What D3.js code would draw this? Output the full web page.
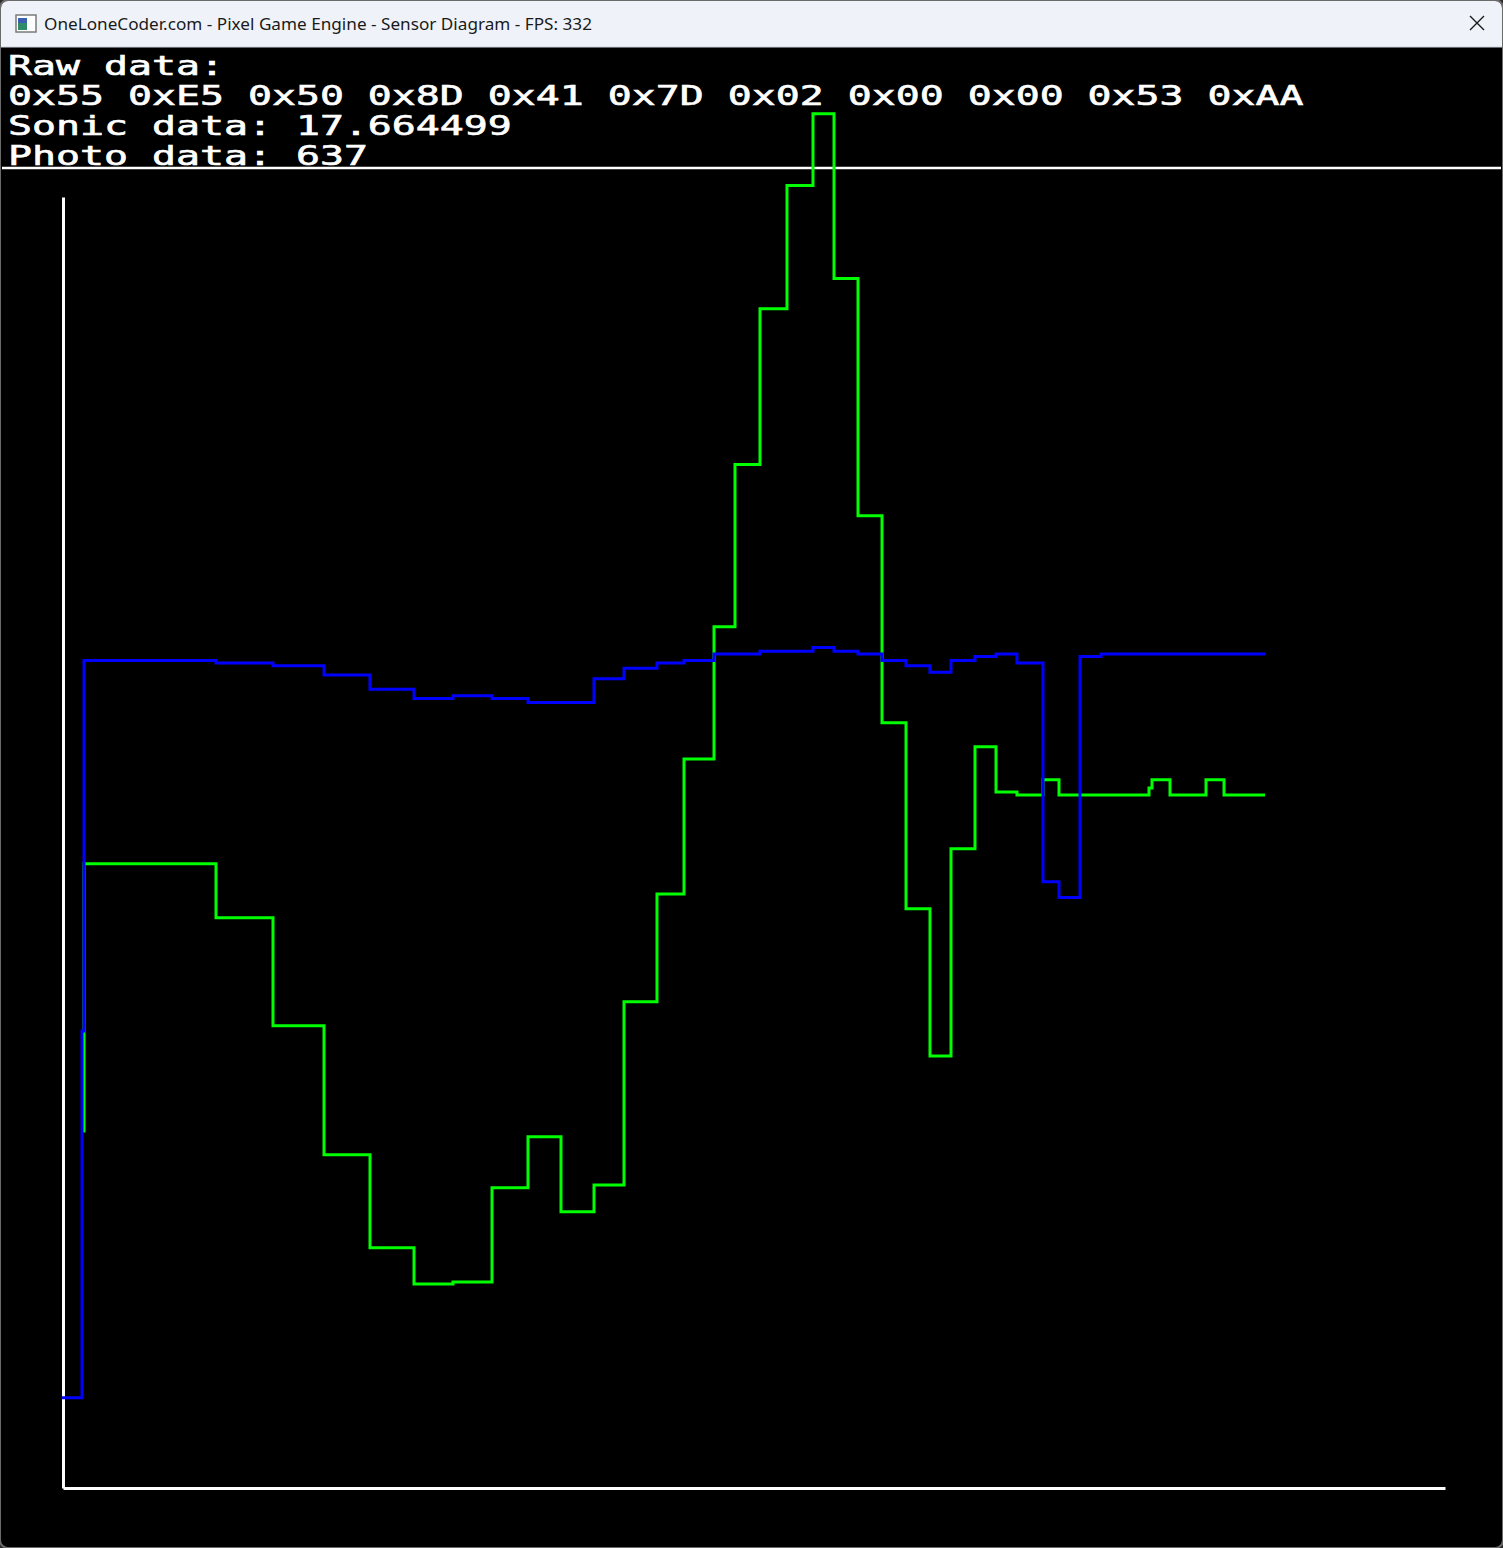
<!DOCTYPE html>
<html lang="en">
<head>
    <meta charset="UTF-8">
    <title>Sensor Diagram</title>
    <script src="https://d3js.org/d3.v7.min.js"></script>
    <style>
        body { margin: 0; background: #2b2b2b; }
        .line { fill: none; stroke-width: 3px; }
        .axis path { stroke: #fff; stroke-width: 3px; }
        .hud { font-family: "DejaVu Sans Mono", monospace; font-size: 26px; fill: #fff; stroke: #fff; stroke-width: 0.6px; }
    </style>
</head>
<body>
    <svg width="1503" height="1548"></svg>

    <script>
        // window title
        const windowTitle = "OneLoneCoder.com - Pixel Game Engine - Sensor Diagram - FPS: 332";

        // last packet + decoded readings
        const rawBytes = ["0x55", "0xE5", "0x50", "0x8D", "0x41", "0x7D", "0x02", "0x00", "0x00", "0x53", "0xAA"];
        const sonicNow = "17.664499";
        const photoNow = "637";

        // sample times (shared by both sensors)
        const times = [0, 20, 22, 154, 211, 262, 308, 352, 391, 430, 466, 499, 532, 562, 595, 622,
            652, 673, 698, 725, 751, 772, 796, 820, 844, 868, 889, 913, 934, 955, 981, 997,
            1018, 1039, 1087, 1090, 1108, 1144, 1162, 1203];

        // ultrasonic distance (green)
        const sonic = [null, 9.10, 15.91, 14.53, 11.78, 8.49, 6.12, 5.20, 5.25, 7.65, 8.95, 7.04, 7.72, 12.39, 15.14, 18.58,
            21.95, 26.08, 30.05, 33.19, 35.02, 30.82, 24.78, 19.50, 14.76, 11.01, 16.29, 18.89, 17.74, 17.66, 18.05, 17.66,
            17.66, 17.66, 17.84, 18.05, 17.66, 18.05, 17.66, 17.66];

        // photo resistor (blue)
        const photo = [69, 349, 632, 630, 628, 621, 610, 603, 605, 603, 600, 600, 618, 626, 630, 632,
            637, 637, 639, 639, 642, 639, 637, 632, 628, 623, 632, 635, 637, 630, 463, 451,
            635, 637, 637, 637, 637, 637, 637, 637];

        const svg = d3.select("svg");

        // window frame
        svg.append("rect").attr("x", 0).attr("y", 0).attr("width", 1503).attr("height", 1548)
            .attr("rx", 8).style("fill", "#000").style("stroke", "#6b6b6b").style("stroke-width", 2);
        svg.append("path").attr("d", "M1,47V8a7,7 0 0 1 7,-7H1495a7,7 0 0 1 7,7V47Z").style("fill", "#eff3f9");
        svg.append("line").attr("x1", 1).attr("x2", 1502).attr("y1", 47).attr("y2", 47)
            .style("stroke", "#d0d4da").style("stroke-width", 1);

        // icon
        svg.append("rect").attr("x", 16).attr("y", 15).attr("width", 20).attr("height", 17)
            .style("fill", "#fff").style("stroke", "#7a7a7a").style("stroke-width", 1.5);
        svg.append("rect").attr("x", 18).attr("y", 18).attr("width", 9).attr("height", 12).style("fill", "#2f8a6a");
        svg.append("rect").attr("x", 18).attr("y", 18).attr("width", 9).attr("height", 5).style("fill", "#3a5fb0");

        svg.append("text")
            .attr("x", 44).attr("y", 30)
            .attr("textLength", 548).attr("lengthAdjust", "spacingAndGlyphs")
            .style("font-family", "'Noto Sans', 'Open Sans', sans-serif")
            .style("font-size", "17px").style("fill", "#1a1a1a")
            .text(windowTitle);

        // close button
        svg.append("path").attr("d", "M1470,16L1484,30M1484,16L1470,30")
            .style("stroke", "#1a1a1a").style("stroke-width", 1.4);

        // HUD text lines (monospace stretched to the 24px cell of the pixel font)
        const hudLines = ["Raw data:", rawBytes.join(" "), "Sonic data: " + sonicNow, "Photo data: " + photoNow];
        const cell = 24, advance = 26 * 0.602;
        svg.selectAll(".hud")
            .data(hudLines)
            .enter().append("text")
            .attr("class", "hud")
            .attr("transform", (d, i) => "translate(8," + (75 + i * 30) + ") scale(" + (cell / advance) + ",1)")
            .text(d => d);

        // separator under HUD
        svg.append("line").attr("x1", 2).attr("x2", 1501).attr("y1", 168).attr("y2", 168)
            .style("stroke", "#fff").style("stroke-width", 2.5);

        // scales
        const x = d3.scaleLinear().domain([0, 1383]).range([62, 1445]);
        const ySonic = d3.scaleLinear().domain([0, 32.9]).range([1488, 197]);
        const yPhoto = d3.scaleLinear().domain([0, 986]).range([1488, 197]);

        // axes (lines only)
        svg.append("g").attr("class", "axis")
            .attr("transform", "translate(63,0)")
            .call(d3.axisLeft(yPhoto).ticks(0).tickSizeOuter(0));
        svg.append("g").attr("class", "axis")
            .attr("transform", "translate(0,1488)")
            .call(d3.axisBottom(x.copy().range([63, 1445])).ticks(0).tickSizeOuter(0));

        const samples = times.map((t, i) => ({ t: t, sonic: sonic[i], photo: photo[i] }));

        // sonic step line
        svg.append("path")
            .data([samples])
            .attr("class", "line")
            .style("stroke", "#00ff00")
            .attr("d", d3.line()
                .defined(d => d.sonic != null)
                .curve(d3.curveStepAfter)
                .x(d => x(d.t))
                .y(d => ySonic(d.sonic)));

        // photo step line
        svg.append("path")
            .data([samples])
            .attr("class", "line")
            .style("stroke", "#0000ff")
            .attr("d", d3.line()
                .curve(d3.curveStepAfter)
                .x(d => x(d.t))
                .y(d => yPhoto(d.photo)));
    </script>
</body>
</html>
